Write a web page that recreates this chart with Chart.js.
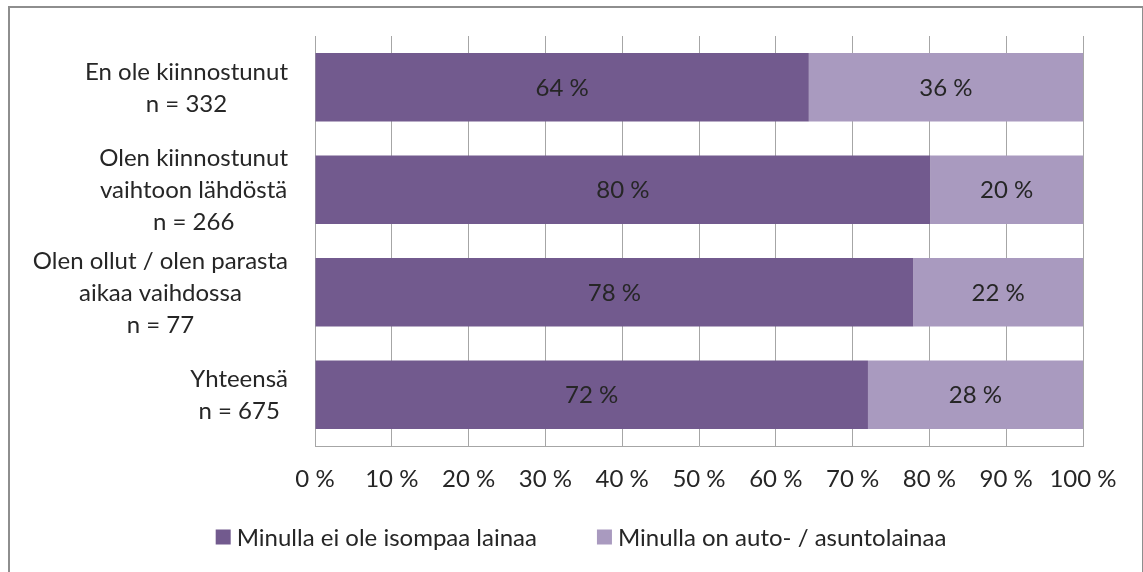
<!DOCTYPE html>
<html>
<head>
<meta charset="utf-8">
<script src="https://cdn.jsdelivr.net/npm/chart.js@4/dist/chart.umd.min.js"></script>
<style>
  html, body { margin: 0; padding: 0; background: #fff; overflow: hidden; }
  #wrap { position: relative; width: 1143px; height: 572px; }
  #frame { position: absolute; left: 8px; top: 6px; width: 1132px; height: 580px; border: 2px solid #8e8e8e; pointer-events: none; }
</style>
</head>
<body>
<div id="wrap">
  <canvas id="chartLainat" width="1143" height="572"></canvas>
  <div id="frame"></div>
</div>
<script>
// Kategoriat (rivit), monirivinen teksti
const categories = [
  ['En ole kiinnostunut', 'n = 332'],
  ['Olen kiinnostunut', 'vaihtoon lähdöstä', 'n = 266'],
  ['Olen ollut / olen parasta', 'aikaa vaihdossa', 'n = 77'],
  ['Yhteensä', 'n = 675']
];
// Sarjojen nimet
const seriesNames = ['Minulla ei ole isompaa lainaa', 'Minulla on auto- / asuntolainaa'];
// Osuudet prosentteina
const noLoan = [64.3, 80.1, 77.9, 72.0];
const hasLoan = [35.7, 19.9, 22.1, 28.0];
// Akselin ääripäät
const xMin = 0;
const xMax = 100;
const xStep = 10;

const FONT = 'Lato, "Open Sans", sans-serif';
const FSIZE = 24;
const TEXT = '#262626';
const COLORS = ['#725a8e', '#a99abf'];

// Arvot palkkien keskelle
const barLabels = {
  id: 'barLabels',
  afterDatasetsDraw(chart) {
    const ctx = chart.ctx;
    ctx.save();
    ctx.font = FSIZE + 'px ' + FONT;
    ctx.fillStyle = TEXT;
    ctx.textAlign = 'center';
    ctx.textBaseline = 'middle';
    chart.data.datasets.forEach((ds, d) => {
      chart.getDatasetMeta(d).data.forEach((el, i) => {
        ctx.fillText(Math.round(ds.data[i]) + ' %', (el.x + el.base) / 2, el.y + 1);
      });
    });
    ctx.restore();
  }
};

// Rivien nimet: lohko oikealle, rivit keskitetysti
const rowLabels = {
  id: 'rowLabels',
  afterDraw(chart) {
    const ctx = chart.ctx;
    const y = chart.scales.y;
    const right = chart.chartArea.left - 27;
    const lh = 32;
    ctx.save();
    ctx.font = FSIZE + 'px ' + FONT;
    ctx.fillStyle = TEXT;
    ctx.textAlign = 'center';
    ctx.textBaseline = 'middle';
    categories.forEach((lines, i) => {
      const w = Math.max(...lines.map(l => ctx.measureText(l).width));
      const cx = right - w / 2;
      const cy = y.getPixelForValue(i) + 1;
      const top = cy - (lines.length - 1) * lh / 2;
      lines.forEach((l, k) => ctx.fillText(l, cx, top + k * lh));
    });
    ctx.restore();
  }
};

// Selite alareunaan (oma piirto, jotta välit vastaavat mallia)
const bottomLegend = {
  id: 'bottomLegend',
  afterDraw(chart) {
    const ctx = chart.ctx;
    const box = 15, gapBox = 6, gapItem = 60;
    const cy = 537;
    ctx.save();
    ctx.font = FSIZE + 'px ' + FONT;
    ctx.textBaseline = 'middle';
    ctx.textAlign = 'left';
    const items = chart.data.datasets.map(ds => ({
      text: ds.label, color: ds.backgroundColor, w: ctx.measureText(ds.label).width
    }));
    const total = items.reduce((s, it) => s + box + gapBox + it.w, 0) + gapItem * (items.length - 1);
    let x = 581 - total / 2;
    items.forEach(it => {
      ctx.fillStyle = it.color;
      ctx.fillRect(x, cy - box / 2, box, box);
      ctx.fillStyle = TEXT;
      ctx.fillText(it.text, x + box + gapBox, cy + 1);
      x += box + gapBox + it.w + gapItem;
    });
    ctx.restore();
  }
};

const ctx = document.getElementById('chartLainat').getContext('2d');

const chartLainat = new Chart(ctx, {
  type: 'bar',
  data: {
    labels: categories,
    datasets: [{
      label: seriesNames[0],
      data: noLoan,
      backgroundColor: COLORS[0],
      categoryPercentage: 0.67,
      barPercentage: 1
    }, {
      label: seriesNames[1],
      data: hasLoan,
      backgroundColor: COLORS[1],
      categoryPercentage: 0.67,
      barPercentage: 1
    }]
  },
  options: {
    indexAxis: 'y',
    responsive: false,
    devicePixelRatio: 1,
    animation: false,
    layout: {
      padding: { left: 83, top: 36, right: 60, bottom: 66 }
    },
    scales: {
      x: {
        stacked: true,
        min: xMin,
        max: xMax,
        ticks: {
          stepSize: xStep,
          padding: 19,
          color: TEXT,
          font: { family: FONT, size: FSIZE },
          callback: v => v + ' %'
        },
        grid: { color: '#a6a6a6', drawTicks: false },
        border: { color: '#a6a6a6' },
        afterFit(scale) { scale.height = 60; }
      },
      y: {
        stacked: true,
        ticks: { display: false },
        grid: { display: false },
        border: { color: '#a6a6a6' },
        afterFit(scale) { scale.width = 232; }
      }
    },
    plugins: {
      legend: { display: false },
      tooltip: { enabled: false }
    }
  },
  plugins: [barLabels, rowLabels, bottomLegend]
});
</script>
</body>
</html>
